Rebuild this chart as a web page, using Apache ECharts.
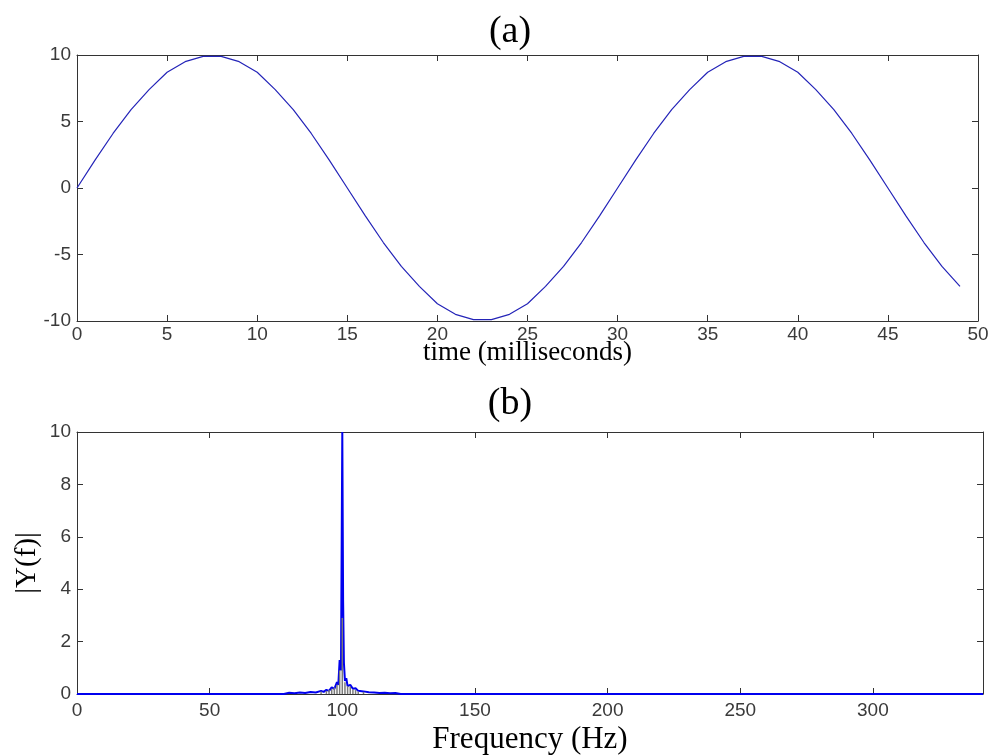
<!DOCTYPE html>
<html>
<head>
<meta charset="utf-8">
<script src="https://cdn.jsdelivr.net/npm/echarts@6/dist/echarts.min.js"></script>
<style>html,body{margin:0;padding:0;background:#fff}#c{width:993px;height:756px}</style>
</head>
<body>
<div id="c"></div>
<script>
// (a) time-domain signal, sampled every 1 ms
var timeMs = [0,1,2,3,4,5,6,7,8,9,10,11,12,13,14,15,16,17,18,19,20,21,22,23,24,25,26,27,28,29,30,31,32,33,34,35,36,37,38,39,40,41,42,43,44,45,46,47,48,49];
var signal = [0,2.1,4.1,5.9,7.4,8.7,9.5,9.9,9.9,9.5,8.7,7.4,5.9,4.1,2.1,0,-2.1,-4.1,-5.9,-7.4,-8.7,-9.5,-9.9,-9.9,-9.5,-8.7,-7.4,-5.9,-4.1,-2.1,0,2.1,4.1,5.9,7.4,8.7,9.5,9.9,9.9,9.5,8.7,7.4,5.9,4.1,2.1,0,-2.1,-4.1,-5.9,-7.4];
var timeTicks = ['0','5','10','15','20','25','30','35','40','45','50'];

// (b) magnitude spectrum
var freqHz = [0,78,80,82,84,86,88,90,92,93,94,95,96,97,98,98.5,99,99.5,100,100.3,100.6,101,101.5,102,103,104,105,106,108,110,112,114,116,118,120,122,341.5];
var magnitude = [0,0,0.05,0.03,0.06,0.04,0.08,0.06,0.12,0.08,0.16,0.12,0.25,0.2,0.45,0.35,1.3,0.9,10,3.6,1.2,0.5,0.6,0.3,0.35,0.2,0.22,0.12,0.1,0.07,0.06,0.04,0.05,0.03,0.04,0,0];
var stemHz = [92,94,95,96,97,98,99,100,101,102,103,104,105,106,108];
var stemMag = [0.1,0.12,0.15,0.2,0.25,0.35,0.9,2.9,0.45,0.3,0.28,0.18,0.15,0.1,0.08];

var labelFont = {fontFamily:'Liberation Sans, Arial, sans-serif', fontSize:19, color:'#3a3a3a'};
var serif = 'Liberation Serif, Times New Roman, serif';
var axLine = {onZero:false, lineStyle:{color:'#333', width:1}};
var tick = {inside:true, length:6, lineStyle:{color:'#333'}};

function pairs(xs, ys){ return xs.map(function(x,i){ return [x, ys[i]]; }); }

var chart = echarts.init(document.getElementById('c'));
chart.setOption({
  backgroundColor:'#fff',
  animation:false,
  title:[
    {text:'(a)', left:505, top:8, textAlign:'center', textStyle:{fontFamily:serif, fontSize:38, fontWeight:'normal', color:'#000'}},
    {text:'(b)', left:505, top:380, textAlign:'center', textStyle:{fontFamily:serif, fontSize:38, fontWeight:'normal', color:'#000'}}
  ],
  grid:[
    {left:77, right:15, top:55, height:266, show:false},
    {left:77, right:10, top:432, height:265, show:false}
  ],
  xAxis:[
    {gridIndex:0, type:'value', min:0, max:50, interval:5, position:'bottom',
     name:'time (milliseconds)', nameLocation:'middle', nameGap:18, nameMoveOverlap:false,
     nameTextStyle:{fontFamily:serif, fontSize:27, color:'#000', verticalAlign:'top'},
     axisLine:axLine, axisTick:tick, splitLine:{show:false},
     axisLabel:Object.assign({margin:4, formatter:function(v){ return timeTicks[Math.round(v/5)]; }}, labelFont)},
    {gridIndex:0, type:'value', min:0, max:50, interval:5, position:'top',
     axisLine:axLine, axisTick:tick, splitLine:{show:false}, axisLabel:{show:false}},
    {gridIndex:1, type:'value', min:0, max:341.5, interval:50, position:'bottom',
     name:'Frequency (Hz)', nameLocation:'middle', nameGap:30, nameMoveOverlap:false,
     nameTextStyle:{fontFamily:serif, fontSize:31, color:'#000', verticalAlign:'top'},
     axisLine:axLine, axisTick:tick, splitLine:{show:false},
     axisLabel:Object.assign({margin:7, showMaxLabel:false}, labelFont)},
    {gridIndex:1, type:'value', min:0, max:341.5, interval:50, position:'top',
     axisLine:axLine, axisTick:tick, splitLine:{show:false}, axisLabel:{show:false}}
  ],
  yAxis:[
    {gridIndex:0, type:'value', min:-10, max:10, interval:5, position:'left',
     axisLine:Object.assign({show:true}, axLine), axisTick:tick, splitLine:{show:false},
     axisLabel:Object.assign({margin:6}, labelFont)},
    {gridIndex:0, type:'value', min:-10, max:10, interval:5, position:'right',
     axisLine:Object.assign({show:true}, axLine), axisTick:tick, splitLine:{show:false}, axisLabel:{show:false}},
    {gridIndex:1, type:'value', min:0, max:10, interval:2, position:'left',
     name:'|Y(f)|', nameLocation:'middle', nameGap:35, nameRotate:90, nameMoveOverlap:false,
     nameTextStyle:{fontFamily:serif, fontSize:29, color:'#000'},
     axisLine:Object.assign({show:true}, axLine), axisTick:tick, splitLine:{show:false},
     axisLabel:Object.assign({margin:6}, labelFont)},
    {gridIndex:1, type:'value', min:0, max:10, interval:2, position:'right',
     axisLine:Object.assign({show:true}, axLine), axisTick:tick, splitLine:{show:false}, axisLabel:{show:false}}
  ],
  series:[
    {type:'line', xAxisIndex:0, yAxisIndex:0, data:pairs(timeMs, signal), showSymbol:false,
     lineStyle:{color:'#2424b8', width:1.2}, z:3},
    {type:'line', xAxisIndex:2, yAxisIndex:2, data:pairs(freqHz, magnitude), showSymbol:false,
     lineStyle:{color:'#0000ee', width:2}, z:3},
    {type:'bar', xAxisIndex:2, yAxisIndex:2, data:pairs(stemHz, stemMag), barWidth:1.5,
     itemStyle:{color:'#7a7a7a'}, z:4}
  ]
});
</script>
</body>
</html>
